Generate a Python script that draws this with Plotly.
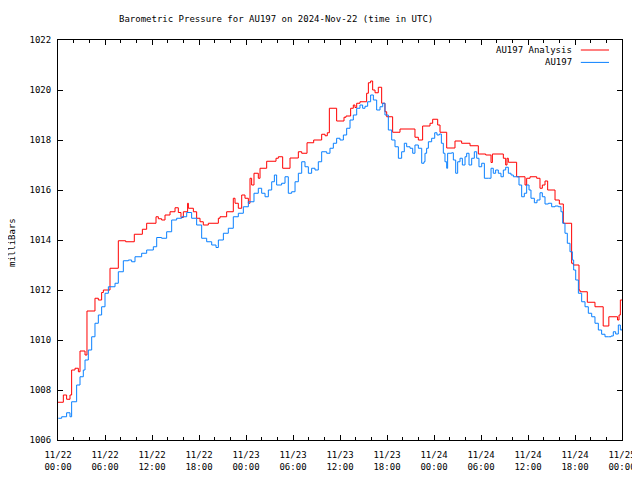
import pandas as pd
import plotly.graph_objects as go

start = pd.Timestamp("2024-11-22 00:00")

# AU197 Analysis (red, stepped) : hours after start, pressure (mb)
analysis_hours = [0.0,0.68,1.1,1.53,1.74,2.17,2.6,2.81,3.45,3.7,4.72,5.15,5.57,5.79,6.64,7.7,8.64,9.74,10.77,11.32,
                  12.51,12.81,13.23,13.66,14.3,14.94,15.36,15.7,16.0,16.55,16.64,17.28,17.7,18.13,18.55,19.19,20.47,20.68,21.53,22.38,
                  22.6,23.02,23.45,23.87,24.3,24.51,24.72,25.02,25.57,25.79,26.64,27.83,28.13,28.68,29.62,30.68,31.11,31.79,32.64,33.66,
                  34.09,34.38,34.64,35.57,36.51,36.77,37.36,37.7,37.91,38.13,38.55,39.4,39.62,39.91,40.17,40.47,40.89,41.32,41.74,41.96,
                  42.72,43.66,45.57,46.0,46.55,47.49,47.83,48.47,48.77,49.62,50.68,51.53,52.6,53.66,54.6,55.28,55.45,56.85,57.15,57.32,
                  57.49,58.55,59.62,59.83,60.26,61.11,61.53,61.83,62.17,62.51,63.45,64.0,64.51,65.57,65.79,66.51,66.64,67.57,68.55,69.6,
                  70.32,71.43,71.62,71.79,72.0]
analysis_mb = [1007.51,1007.8,1007.63,1007.8,1008.8,1008.87,1008.73,1009.56,1009.4,1011.16,1011.67,1011.6,1011.9,1012.0,1012.87,1013.97,1013.93,1014.23,1014.43,1014.67,
               1014.93,1014.85,1014.8,1015.0,1015.13,1015.29,1015.1,1014.9,1015.13,1015.47,1015.27,1015.13,1014.87,1014.73,1014.6,1014.67,1014.87,1014.93,1015.13,1015.67,
               1015.47,1015.27,1015.8,1015.67,1015.47,1016.47,1016.2,1016.67,1016.47,1016.87,1017.15,1017.27,1017.33,1016.87,1017.28,1017.53,1017.47,1017.89,1018.0,1018.23,
               1018.17,1018.29,1019.27,1018.76,1018.91,1018.96,1019.27,1019.4,1019.3,1019.47,1019.53,1019.87,1020.29,1020.36,1020.0,1019.89,1020.11,1019.47,1019.13,1018.93,
               1018.31,1018.44,1018.11,1018.0,1018.56,1018.67,1018.83,1018.6,1018.31,1017.68,1017.96,1017.87,1017.77,1017.44,1017.4,1017.1,1017.44,1017.27,1017.0,1017.27,
               1017.11,1016.53,1016.2,1016.47,1016.53,1016.47,1016.07,1016.2,1016.36,1016.0,1015.6,1015.44,1014.67,1013.07,1013.0,1012.0,1011.93,1011.51,1011.33,1010.56,
               1010.93,1010.8,1011.0,1011.6,1011.6]

# AU197 observed (blue)
obs_hours = [0.04,0.47,1.1,1.53,1.74,2.38,2.81,3.23,3.45,3.87,4.3,4.72,5.15,5.57,6.0,6.43,7.28,7.7,8.34,8.98,
             9.4,9.83,10.68,11.32,12.17,12.6,13.23,13.87,14.51,15.15,15.79,16.43,17.06,17.7,18.34,18.98,19.62,20.17,20.47,21.11,
             21.74,22.38,23.02,23.66,24.3,25.02,
             25.57,26.0,26.43,26.85,27.28,27.62,27.91,28.55,28.98,29.4,29.83,30.26,30.68,31.11,31.53,31.96,32.38,32.81,33.23,33.66,
             34.3,34.72,35.15,35.57,36.0,36.43,36.85,37.28,37.7,38.13,38.55,38.89,39.19,39.53,39.91,40.26,40.68,41.11,41.45,41.74,
             42.17,42.6,43.02,43.45,43.87,44.21,44.51,44.94,45.28,45.57,46.0,46.43,46.72,
             46.85,47.06,47.28,47.7,48.09,48.38,48.68,48.94,49.19,49.4,49.62,49.74,50.26,50.47,50.77,51.02,51.32,51.62,51.96,52.17,
             52.47,52.81,53.15,53.45,53.74,54.09,54.43,54.94,55.28,55.57,55.87,56.21,56.55,56.85,57.15,57.49,57.83,58.13,58.55,58.85,
             59.19,59.53,59.83,60.13,60.38,60.81,61.15,61.53,61.83,62.17,62.6,63.02,63.45,63.87,64.21,64.43,64.72,65.02,65.36,65.66,
             65.83,66.09,66.43,66.85,67.28,67.7,68.13,68.55,68.98,69.4,69.83,70.26,70.6,70.89,71.19,71.53,71.79,72.0]
obs_mb = [1006.87,1006.93,1007.09,1006.93,1007.53,1008.2,1008.53,1008.8,1009.2,1009.6,1010.13,1010.67,1011.0,1011.33,1011.87,1012.13,1012.27,1012.73,1013.17,1013.2,
          1013.13,1013.33,1013.47,1013.6,1013.73,1014.1,1014.07,1014.33,1014.8,1014.87,1014.93,1015.1,1014.87,1014.6,1014.07,1013.93,1013.8,1013.7,1014.0,1014.27,
          1014.47,1014.93,1015.07,1015.33,1015.53,1015.87,
          1016.07,1015.87,1015.73,1016.0,1016.33,1016.6,1016.2,1016.27,1016.53,1015.87,1015.93,1016.33,1016.67,1017.13,1016.93,1016.67,1016.87,1016.8,1017.13,1017.53,
          1017.47,1017.67,1017.87,1018.07,1018.0,1018.2,1018.47,1018.8,1019.0,1019.27,1019.4,1019.27,1019.35,1019.53,1019.8,1019.6,1019.2,1019.33,1019.47,1019.0,
          1018.4,1018.0,1017.73,1017.27,1017.53,1017.87,1017.73,1017.67,1017.47,1017.8,1017.67,1017.07,1017.13,
          1017.47,1017.67,1017.93,1018.07,1018.29,1018.2,1018.24,1017.87,1017.47,1017.13,1016.87,1017.47,1017.49,1017.2,1016.67,1017.13,1017.27,1017.0,1017.33,1017.47,
          1017.0,1017.27,1017.53,1017.27,1016.93,1017.07,1016.47,1016.47,1016.87,1016.67,1016.8,1016.67,1016.53,1016.8,1016.91,1016.67,1016.6,1016.53,1016.53,1016.2,
          1015.73,1015.87,1016.2,1016.0,1015.67,1015.49,1015.6,1015.89,1015.73,1015.44,1015.47,1015.33,1015.36,1015.33,1015.13,1014.67,1014.27,1013.87,1013.53,1013.2,
          1012.8,1012.4,1011.87,1011.53,1011.33,1011.07,1010.93,1010.67,1010.4,1010.23,1010.13,1010.13,1010.16,1010.33,1010.24,1010.6,1010.4,1010.45]

series_names = ["AU197 Analysis", "AU197"]
series_colors = ["#ff0000", "#0a80ff"]

t_analysis = start + pd.to_timedelta(analysis_hours, unit="h")
t_obs = start + pd.to_timedelta(obs_hours, unit="h")

FONT = "DejaVu Sans Mono"

fig = go.Figure()
fig.add_trace(go.Scatter(x=t_analysis, y=analysis_mb, mode="lines", line_shape="hv",
                         line=dict(color=series_colors[0], width=1), name=series_names[0]))
fig.add_trace(go.Scatter(x=t_obs, y=obs_mb, mode="lines", line_shape="hv",
                         line=dict(color=series_colors[1], width=1), name=series_names[1]))

# page body has an 8px margin, so the figure is sized/offset to land the plot box at 58..622 x 40..440
fig.update_layout(
    width=632, height=464,
    margin=dict(l=50, r=18, t=32, b=32),
    paper_bgcolor="white", plot_bgcolor="white",
    showlegend=False,
    font=dict(family=FONT, size=9, color="black"),
)
fig.update_xaxes(
    range=[start, start + pd.Timedelta(hours=72)],
    tickmode="linear", tick0=start, dtick=6 * 3600 * 1000,
    tickformat="%m/%d<br>%H:%M",
    ticks="inside", ticklen=5, tickcolor="black", tickwidth=1,
    minor=dict(dtick=2 * 3600 * 1000, ticks="inside", ticklen=3, tickcolor="black"),
    showline=True, linecolor="black", linewidth=1, mirror="allticks",
    showgrid=False, zeroline=False, automargin=False,
    tickfont=dict(family=FONT, size=9), ticklabelstandoff=6,
)
fig.update_yaxes(
    range=[1006, 1022], tickmode="linear", tick0=1006, dtick=2,
    ticks="inside", ticklen=5, tickcolor="black", tickwidth=1,
    showline=True, linecolor="black", linewidth=1, mirror="allticks",
    showgrid=False, zeroline=False, automargin=False,
    tickfont=dict(family=FONT, size=9), ticklabelstandoff=4,
)

# title and y label
fig.add_annotation(text="Barometric Pressure for AU197 on 2024-Nov-22 (time in UTC)",
                   xref="paper", yref="paper", x=0.3874, y=1.0525, xanchor="center", yanchor="middle",
                   showarrow=False, font=dict(family=FONT, size=9))
fig.add_annotation(text="milliBars", xref="paper", yref="paper", x=-0.0816, y=0.495,
                   textangle=-90, showarrow=False, xanchor="center", yanchor="middle",
                   font=dict(family=FONT, size=9))

# gnuplot-style legend (text left of sample line)
legend_rows = [0.975, 0.944]
for name, color, ly in zip(series_names, series_colors, legend_rows):
    fig.add_annotation(text=name, xref="paper", yref="paper", x=0.915, y=ly,
                       xanchor="right", yanchor="middle", showarrow=False,
                       font=dict(family=FONT, size=9))
    fig.add_shape(type="line", xref="paper", yref="paper", x0=0.927, x1=0.977, y0=ly, y1=ly,
                  line=dict(color=color, width=1))

fig.write_html("out.html")
